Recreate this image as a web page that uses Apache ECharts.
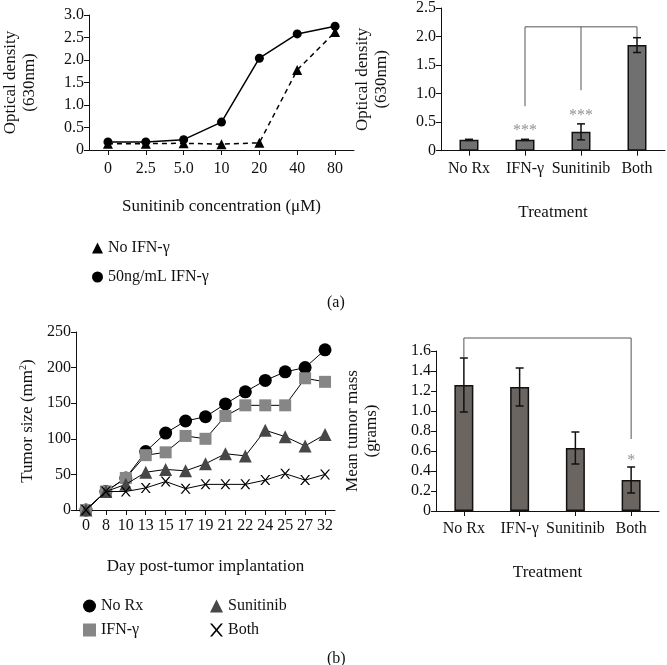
<!DOCTYPE html>
<html><head><meta charset="utf-8">
<script src="https://cdn.jsdelivr.net/npm/echarts@6/dist/echarts.min.js"></script>
<style>html,body{margin:0;padding:0;background:#fff}#c{width:667px;height:665px}</style>
</head><body><div id="c"></div>
<script>
// ---- (a) left: dose response ----
const concLabels = ['0','2.5','5.0','10','20','40','80'];
const odNoIFN = [0.14,0.14,0.15,0.13,0.16,1.78,2.62];
const odIFN50 = [0.18,0.18,0.23,0.62,2.04,2.58,2.75];
// ---- (a) right: bar chart ----
const treatments = ['No Rx','IFN-γ','Sunitinib','Both'];
const odBars = [0.19,0.19,0.33,1.85];
const odErr = [0.01,0.01,0.14,0.13];
const odStars = [['IFN-γ',0.34,'***'],['Sunitinib',0.62,'***']];
const odBracketMain = [['IFN-γ',0.78],['IFN-γ',2.17],['Both',2.17],['Both',1.99]];
const odBracketMid = [['Sunitinib',1.06],['Sunitinib',2.17]];
// ---- (b) left: tumor growth ----
const dayLabels = ['0','8','10','13','15','17','19','21','22','24','25','27','32'];
const sizeNoRx = [0,26,45,82,108,125,131,149,166,182,194,200,225];
const sizeIFN = [0,26,45,77,81,104,100,132,147,147,147,185,180];
const sizeSun = [0,26,36,53,57,55,65,79,76,112,103,90,106];
const sizeBoth = [0,26,26,31,40,30,36,36,36,42,51,42,50];
// ---- (b) right: tumor mass ----
const massBars = [1.26,1.24,0.63,0.31];
const massErr = [0.27,0.19,0.16,0.13];
const massStars = [['Both',0.5,'*']];
const massBracket = [['No Rx',1.54],['No Rx',1.73],['Both',1.73],['Both',0.72]];

const FONT = 'Liberation Serif';
const FS = 16;
const xMark = 'path://M0,0L1.6,0L5,4.1L8.4,0L10,0L5.8,5L10,10L8.4,10L5,5.9L1.6,10L0,10L4.2,5Z';

function errData(vals, errs){ return vals.map((v,i)=>[i, v-errs[i], v+errs[i]]); }
function errSeries(xi, yi, vals, errs){
  return {type:'custom', xAxisIndex:xi, yAxisIndex:yi, z:5,
    data: errData(vals, errs),
    renderItem: function(params, api){
      const lo = api.coord([api.value(0), api.value(1)]);
      const hi = api.coord([api.value(0), api.value(2)]);
      const w = 4;
      const st = {stroke:'#111', lineWidth:1.5};
      return {type:'group', children:[
        {type:'line', shape:{x1:lo[0],y1:lo[1],x2:hi[0],y2:hi[1]}, style:st},
        {type:'line', shape:{x1:hi[0]-w,y1:hi[1],x2:hi[0]+w,y2:hi[1]}, style:st},
        {type:'line', shape:{x1:lo[0]-w,y1:lo[1],x2:lo[0]+w,y2:lo[1]}, style:st}
      ]};
    }};
}
function bracket(xi, yi, data){
  return {type:'line', xAxisIndex:xi, yAxisIndex:yi, data:data, symbol:'none', clip:false,
    lineStyle:{color:'#555', width:1}, z:4, silent:true};
}
function stars(xi, yi, data){
  return {type:'scatter', xAxisIndex:xi, yAxisIndex:yi, symbolSize:0, silent:true,
    data:data.map(d=>({value:[d[0],d[1]], label:{formatter:d[2]}})),
    label:{show:true, position:'inside', color:'#777', fontFamily:FONT, fontSize:FS}};
}
const axisLineStyle = {lineStyle:{color:'#111', width:1}};
const tickStyle = {show:true, length:5, lineStyle:{color:'#111', width:1}};
const lbl = {color:'#111', fontFamily:FONT, fontSize:FS};
const nameStyle = {color:'#111', fontFamily:FONT, fontSize:17, lineHeight:19};
const decFmt = v => v === 0 ? '0' : v.toFixed(1);

const option = {
  animation:false,
  backgroundColor:'#fff',
  title:[
    {text:'(a)', left:322, top:290, textStyle:{color:'#111', fontFamily:FONT, fontSize:FS, fontWeight:'normal'}},
    {text:'(b)', left:322, top:646, textStyle:{color:'#111', fontFamily:FONT, fontSize:FS, fontWeight:'normal'}}
  ],
  legend:[
    {orient:'vertical', left:87, top:235, itemWidth:11, itemHeight:11, itemGap:13,
     textStyle:{color:'#111', fontFamily:FONT, fontSize:FS},
     data:[{name:'No IFN-γ', icon:'triangle'},{name:'50ng/mL IFN-γ', icon:'circle'}]},
    {orient:'vertical', left:78, top:593, itemWidth:13, itemHeight:13, itemGap:8,
     textStyle:{color:'#111', fontFamily:FONT, fontSize:FS},
     data:[{name:'No Rx', icon:'circle'},{name:'IFN-γ', icon:'rect'}]},
    {orient:'vertical', left:205, top:593, itemWidth:13, itemHeight:13, itemGap:8,
     textStyle:{color:'#111', fontFamily:FONT, fontSize:FS},
     data:[{name:'Sunitinib', icon:'triangle'},{name:'Both', icon:xMark}]}
  ],
  grid:[
    {left:87, top:15, width:267, height:135},
    {left:441, top:7, width:224, height:143.7},
    {left:76, top:332, width:259, height:178},
    {left:436, top:351, width:223, height:160}
  ],
  xAxis:[
    {gridIndex:0, type:'category', data:concLabels, boundaryGap:true,
     axisLine:axisLineStyle, axisTick:Object.assign({alignWithLabel:true}, tickStyle),
     axisLabel:Object.assign({margin:11}, lbl),
     name:'Sunitinib concentration (μM)', nameLocation:'middle', nameGap:47, nameTextStyle:nameStyle},
    {gridIndex:1, type:'category', data:treatments, boundaryGap:true,
     axisLine:axisLineStyle, axisTick:Object.assign({alignWithLabel:true}, tickStyle),
     axisLabel:Object.assign({margin:10, interval:0}, lbl),
     name:'Treatment', nameLocation:'middle', nameGap:52, nameTextStyle:nameStyle},
    {gridIndex:2, type:'category', data:dayLabels, boundaryGap:true,
     axisLine:axisLineStyle, axisTick:Object.assign({alignWithLabel:true}, tickStyle),
     axisLabel:Object.assign({margin:8, interval:0}, lbl),
     name:'Day post-tumor implantation', nameLocation:'middle', nameGap:47, nameTextStyle:nameStyle},
    {gridIndex:3, type:'category', data:treatments, boundaryGap:true,
     axisLine:axisLineStyle, axisTick:Object.assign({alignWithLabel:true}, tickStyle),
     axisLabel:Object.assign({margin:10, interval:0}, lbl),
     name:'Treatment', nameLocation:'middle', nameGap:52, nameTextStyle:nameStyle}
  ],
  yAxis:[
    {gridIndex:0, type:'value', min:0, max:3, interval:0.5,
     axisLine:Object.assign({show:true}, axisLineStyle), axisTick:tickStyle, splitLine:{show:false},
     axisLabel:Object.assign({formatter:decFmt, margin:5}, lbl),
     name:'Optical density\n(630nm)', nameLocation:'middle', nameGap:50, nameTextStyle:nameStyle},
    {gridIndex:1, type:'value', min:0, max:2.5, interval:0.5,
     axisLine:Object.assign({show:true}, axisLineStyle), axisTick:tickStyle, splitLine:{show:false},
     axisLabel:Object.assign({formatter:decFmt, margin:5}, lbl),
     name:'Optical density\n(630nm)', nameLocation:'middle', nameGap:50, nameTextStyle:nameStyle},
    {gridIndex:2, type:'value', min:0, max:250, interval:50,
     axisLine:Object.assign({show:true}, axisLineStyle), axisTick:tickStyle, splitLine:{show:false},
     axisLabel:Object.assign({margin:5}, lbl),
     name:'Tumor size (mm{sup|2})', nameLocation:'middle', nameGap:39,
     nameTextStyle:Object.assign({rich:{sup:{fontFamily:FONT, fontSize:10, color:'#111', verticalAlign:'top', padding:[0,0,8,0]}}}, nameStyle)},
    {gridIndex:3, type:'value', min:0, max:1.6, interval:0.2,
     axisLine:Object.assign({show:true}, axisLineStyle), axisTick:tickStyle, splitLine:{show:false},
     axisLabel:Object.assign({formatter:decFmt, margin:5}, lbl),
     name:'Mean tumor mass\n(grams)', nameLocation:'middle', nameGap:55, nameTextStyle:nameStyle}
  ],
  series:[
    {name:'No IFN-γ', type:'line', xAxisIndex:0, yAxisIndex:0, data:odNoIFN,
     symbol:'triangle', symbolSize:10, itemStyle:{color:'#000'},
     lineStyle:{color:'#000', width:1.5, type:[5,4]}, z:3},
    {name:'50ng/mL IFN-γ', type:'line', xAxisIndex:0, yAxisIndex:0, data:odIFN50,
     symbol:'circle', symbolSize:9, itemStyle:{color:'#000'},
     lineStyle:{color:'#000', width:1.5}, z:4},
    {type:'bar', xAxisIndex:1, yAxisIndex:1, data:odBars, barWidth:19,
     itemStyle:{color:'#707070', borderColor:'#111', borderWidth:1.5}},
    errSeries(1,1,odBars,odErr),
    bracket(1,1,odBracketMain),
    bracket(1,1,odBracketMid),
    stars(1,1,odStars),
    {name:'No Rx', type:'line', xAxisIndex:2, yAxisIndex:2, data:sizeNoRx,
     symbol:'circle', symbolSize:13, itemStyle:{color:'#000'}, lineStyle:{color:'#000', width:1}, z:2},
    {name:'IFN-γ', type:'line', xAxisIndex:2, yAxisIndex:2, data:sizeIFN,
     symbol:'rect', symbolSize:12, itemStyle:{color:'#868686'}, lineStyle:{color:'#000', width:1}, z:3},
    {name:'Sunitinib', type:'line', xAxisIndex:2, yAxisIndex:2, data:sizeSun,
     symbol:'triangle', symbolSize:13, itemStyle:{color:'#474747'}, lineStyle:{color:'#000', width:1}, z:4},
    {name:'Both', type:'line', xAxisIndex:2, yAxisIndex:2, data:sizeBoth,
     symbol:xMark, symbolSize:10, itemStyle:{color:'#000'}, lineStyle:{color:'#000', width:1}, z:5},
    {type:'bar', xAxisIndex:3, yAxisIndex:3, data:massBars, barWidth:19,
     itemStyle:{color:'#6b6562', borderColor:'#111', borderWidth:1.5}},
    errSeries(3,3,massBars,massErr),
    bracket(3,3,massBracket),
    stars(3,3,massStars)
  ]
};
const chart = echarts.init(document.getElementById('c'), null, {renderer:'canvas'});
chart.setOption(option);
</script></body></html>
